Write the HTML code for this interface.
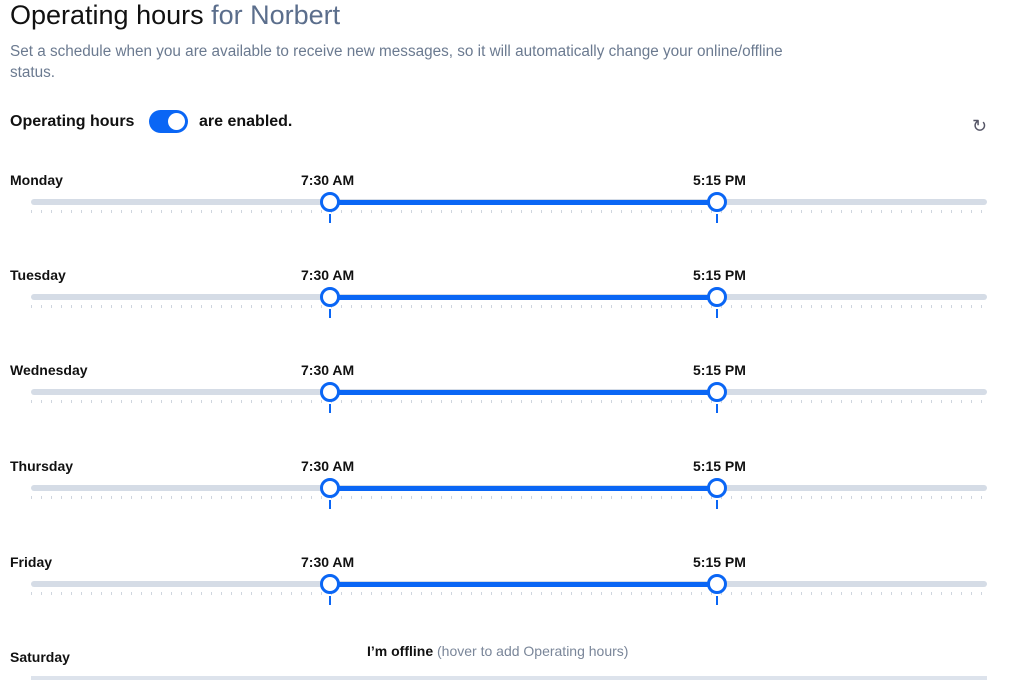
<!DOCTYPE html>
<html><head><style>
body{margin:0;width:1024px;height:696px;background:#fff;font-family:"Liberation Sans",sans-serif;position:relative;overflow:hidden;color:#111}
.a{position:absolute}
.day{font-weight:bold;font-size:14px;left:10px}
.tl{font-weight:bold;font-size:14px}
.track{left:31px;width:956px;height:6px;background:#d5dce6;border-radius:3px}
.blue{left:330px;width:387px;height:5px;background:#0a66f5}
.ticks{left:31px;width:956px;height:3px;background:repeating-linear-gradient(90deg,#cfd5de 0 1px,transparent 1px 10px)}
.h{width:14px;height:14px;border:3px solid #0a66f5;border-radius:50%;background:#fff}
.st{width:2px;height:9px;background:#0a66f5}
</style></head><body>
<div class="a" style="left:10px;top:0px;font-size:27px;">Operating hours <span style="color:#5b6e8c">for Norbert</span></div>
<div class="a" style="left:10px;top:41px;font-size:15.3px;color:#6b7a90;line-height:21px;white-space:nowrap">Set a schedule when you are available to receive new messages, so it will automatically change your online/offline<br>status.</div>
<div class="a" style="left:10px;top:113px;font-size:16px;font-weight:bold">Operating hours</div>
<div class="a" style="left:149px;top:110px;width:39px;height:23px;border-radius:12px;background:#0a66f5"><div class="a" style="left:19px;top:3px;width:17px;height:17px;border-radius:50%;background:#fff"></div></div>
<div class="a" style="left:199px;top:113px;font-size:16px;font-weight:bold">are enabled.</div>
<div class="a" style="left:972px;top:116px;font-size:18px;color:#556">&#8635;</div>
<div id="rows"></div>
<div class="a day" style="top:649px">Saturday</div>
<div class="a" style="left:367px;top:643px;font-size:14px"><b>I’m offline</b> <span style="color:#7a8699">(hover to add Operating hours)</span></div>
<div class="a" style="left:31px;top:676px;width:956px;height:4px;background:#dde3ec"></div>
<script>
var d=["Monday","Tuesday","Wednesday","Thursday","Friday"],ys=[202,297,392,488,584],h="";
for(var i=0;i<5;i++){var y=ys[i];
h+='<div class="a day" style="top:'+(y-30)+'px">'+d[i]+'</div>';
h+='<div class="a tl" style="left:301px;top:'+(y-30)+'px">7:30 AM</div>';
h+='<div class="a tl" style="left:693px;top:'+(y-30)+'px">5:15 PM</div>';
h+='<div class="a track" style="top:'+(y-3)+'px"></div>';
h+='<div class="a ticks" style="top:'+(y+8)+'px"></div>';
h+='<div class="a blue" style="top:'+(y-2)+'px"></div>';
[330,717].forEach(function(x){h+='<div class="a h" style="left:'+(x-10)+'px;top:'+(y-10)+'px"></div><div class="a st" style="left:'+(x-1)+'px;top:'+(y+12)+'px"></div>';});}
document.getElementById("rows").innerHTML=h;
</script>
</body></html>
